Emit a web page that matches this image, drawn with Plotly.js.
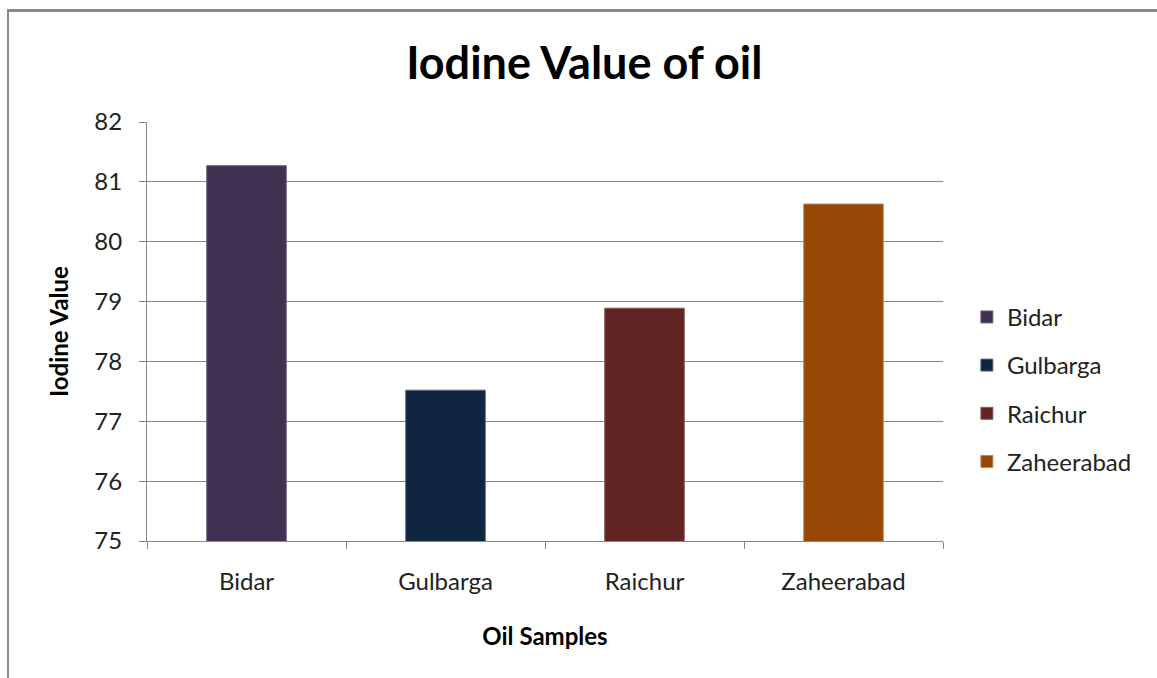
<!DOCTYPE html>
<html>
<head>
<meta charset="utf-8">
<script src="https://cdn.plot.ly/plotly-3.0.1.min.js"></script>
<style>
html,body{margin:0;padding:0;background:#fff;}
#wrap{position:relative;width:1157px;height:678px;overflow:hidden;}
#chart{position:absolute;left:0;top:0;width:1157px;height:678px;}
#frame{position:absolute;left:7px;top:9px;width:1200px;height:700px;border-left:2px solid #8a8a8a;border-top:3px solid #8a8a8a;pointer-events:none;}
</style>
</head>
<body>
<div id="wrap"><div id="chart"></div><div id="frame"></div></div>
<script>
const categories = ["Bidar", "Gulbarga", "Raichur", "Zaheerabad"];
const values = [81.27, 77.52, 78.89, 80.63];
const colors = ["#403152", "#10253f", "#632523", "#974806"];
const lineColors = ["#6f6480", "#5a6a80", "#8a6060", "#c08a5a"];
const yTicks = [75, 76, 77, 78, 79, 80, 81, 82];

const font = "Lato, 'Open Sans', sans-serif";
const traces = categories.map((c, i) => ({
  type: "bar",
  name: c,
  x: [c],
  y: [values[i]],
  width: 0.4,
  legendgroup: c,
  marker: {color: colors[i], line: {color: lineColors[i], width: 1}},
  hoverinfo: "x+y"
}));

const layout = {
  width: 1157, height: 678,
  margin: {l: 147, r: 214, t: 122, b: 137},
  paper_bgcolor: "#fff", plot_bgcolor: "#fff",
  barmode: "overlay",
  title: {text: "<b>Iodine Value of oil</b>", font: {family: font, size: 45, color: "#000"},
          x: 0.505, xanchor: "center", y: 0.907, yanchor: "middle"},
  xaxis: {
    type: "category", categoryorder: "array", categoryarray: categories,
    showline: true, linecolor: "#868686", linewidth: 1,
    ticks: "outside", tickson: "boundaries", ticklen: 7, tickcolor: "#868686",
    tickfont: {family: font, size: 24, color: "#222"},
    ticklabelstandoff: 19,
    showgrid: false,
    title: {text: "<b>Oil Samples</b>", font: {family: font, size: 24, color: "#000"}, standoff: 34}
  },
  yaxis: {
    range: [75, 82], tickvals: yTicks, ticktext: yTicks.map(String),
    showline: true, linecolor: "#868686", linewidth: 1,
    ticks: "outside", ticklen: 7, tickcolor: "#868686",
    tickfont: {family: font, size: 24, color: "#222"},
    ticklabelstandoff: 12,
    showgrid: true, gridcolor: "#868686", gridwidth: 1, zeroline: false,
    title: {text: "<b>Iodine Value</b>", font: {family: font, size: 24, color: "#000"}, standoff: 18}
  },
  showlegend: true,
  legend: {x: 1.03, xanchor: "left", y: 0.362, yanchor: "middle",
           font: {family: font, size: 24, color: "#222"},
           traceorder: "grouped", tracegroupgap: 14, itemwidth: 30, bgcolor: "rgba(0,0,0,0)"}
};

Plotly.newPlot("chart", traces, layout, {displayModeBar: false, staticPlot: true});
</script>
</body>
</html>
